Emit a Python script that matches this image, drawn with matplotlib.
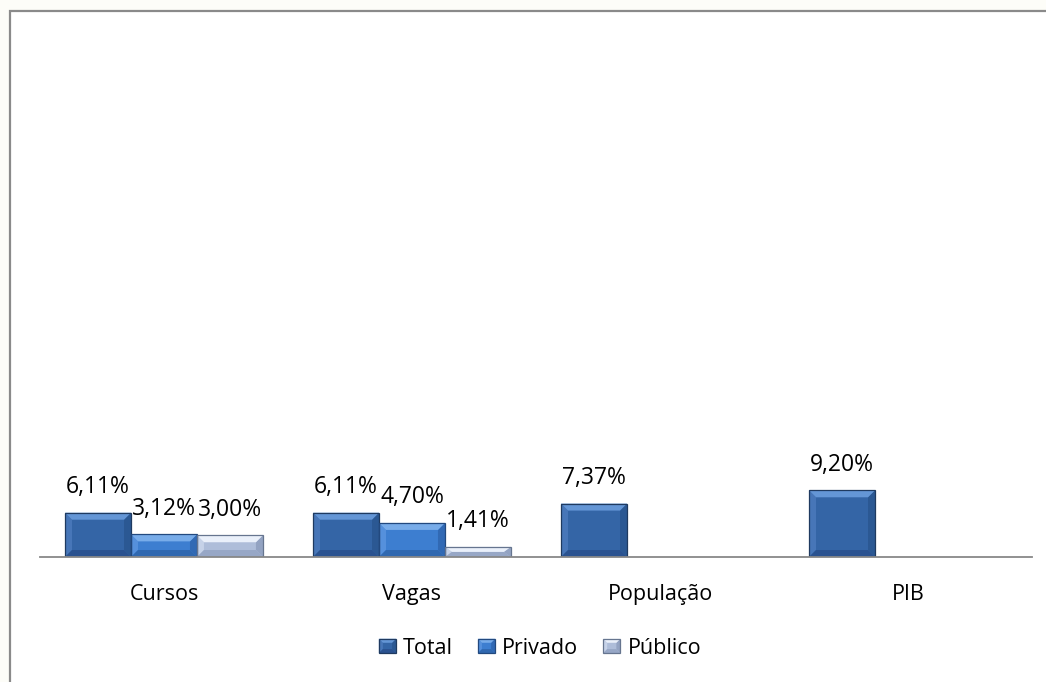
import numpy as np
import matplotlib.pyplot as plt
from matplotlib.patches import Polygon, Rectangle, Patch
from matplotlib.legend_handler import HandlerBase

plt.rcParams['font.family'] = ['Open Sans', 'DejaVu Sans']

categorias = ["Cursos", "Vagas", "População", "PIB"]
total = [6.11, 6.11, 7.37, 9.20]
privado = [3.12, 4.70, None, None]
publico = [3.00, 1.41, None, None]

# cores: face, topo, base, esquerda, direita, contorno
cores = {
    "Total":   ("#3465a6", "#6496d6", "#2a5290", "#4776b8", "#2b5893", "#1f3a60"),
    "Privado": ("#3d7ed0", "#78ace9", "#3068b0", "#5590dc", "#3169b4", "#22497f"),
    "Público": ("#aebdd9", "#eaf0fa", "#97a7c6", "#c6d2e8", "#93a3c2", "#66758f"),
}

fig = plt.figure(figsize=(10.46, 6.82), dpi=100)
fig.patch.set_facecolor("#fdfdf8")
W, H = 1046, 682

# moldura do grafico (sai pela direita e por baixo)
fig.patches.append(Rectangle((9.5 / W, -0.1), 1.2, 1.1 - 10.5 / H, transform=fig.transFigure,
                             facecolor="white", edgecolor="#8a8a8a", lw=1.6, zorder=-1))

ax = fig.add_axes([40 / W, (H - 557) / H, 992 / W, (557 - 30) / H])
ax.set_facecolor("none")
ax.set_xlim(-0.5, 3.5)
ax.set_ylim(0, 527 / 7.25)

x = np.arange(len(categorias))
w = 0.266


def pecas_chanfro(x0, y0, larg, alt, dx, dy, cor):
    face, c_top, c_bot, c_esq, c_dir, c_borda = cor
    return [
        ([(x0, y0), (x0, y0 + alt), (x0 + dx, y0 + alt - dy), (x0 + dx, y0 + dy)], c_esq),
        ([(x0 + larg, y0), (x0 + larg, y0 + alt), (x0 + larg - dx, y0 + alt - dy), (x0 + larg - dx, y0 + dy)], c_dir),
        ([(x0, y0), (x0 + larg, y0), (x0 + larg - dx, y0 + dy), (x0 + dx, y0 + dy)], c_bot),
        ([(x0, y0 + alt), (x0 + larg, y0 + alt), (x0 + larg - dx, y0 + alt - dy), (x0 + dx, y0 + alt - dy)], c_top),
    ]


def chanfro(ax, ret, cor):
    x0, larg, alt = ret.get_x(), ret.get_width(), ret.get_height()
    p0 = ax.transData.transform((0, 0))
    p1 = ax.transData.transform((1, 1))
    sx, sy = p1[0] - p0[0], p1[1] - p0[1]
    dx = min(7 / sx, larg / 2)
    dy = min(7 / sy, alt / 2)
    for pts, c in pecas_chanfro(x0, 0, larg, alt, dx, dy, cor):
        ax.add_patch(Polygon(pts, closed=True, facecolor=c, lw=0, zorder=3))
    ax.add_patch(Rectangle((x0, 0), larg, alt, fill=False, edgecolor=cor[5], lw=0.9, zorder=4))


class ChanfroHandler(HandlerBase):
    def __init__(self, cor):
        super().__init__()
        self.cor = cor

    def create_artists(self, legend, orig_handle, xdescent, ydescent, width, height, fontsize, trans):
        x0, y0 = -xdescent, -ydescent
        d = min(width, height) * 0.28
        arts = [Rectangle((x0, y0), width, height, facecolor=self.cor[0], lw=0)]
        for pts, c in pecas_chanfro(x0, y0, width, height, d, d, self.cor):
            arts.append(Polygon(pts, closed=True, facecolor=c, lw=0))
        arts.append(Rectangle((x0, y0), width, height, fill=False, edgecolor=self.cor[5], lw=0.9))
        for a in arts:
            a.set_transform(trans)
        return arts


series = [("Total", total, -w), ("Privado", privado, 0), ("Público", publico, w)]
for nome, vals, desl in series:
    idx = [i for i, v in enumerate(vals) if v is not None]
    alturas = [vals[i] for i in idx]
    barras = ax.bar(x[idx] + desl, alturas, w, color=cores[nome][0], lw=0, zorder=2)
    for b, v in zip(barras, alturas):
        chanfro(ax, b, cores[nome])
        ax.annotate(f"{v:.2f}%".replace(".", ","), (b.get_x() + b.get_width() / 2, v),
                    xytext=(0, 14), textcoords="offset points", ha="center", va="baseline",
                    fontsize=16.5, color="black", zorder=5)

for s in ["top", "left", "right"]:
    ax.spines[s].set_visible(False)
ax.spines["bottom"].set_color("#888888")
ax.spines["bottom"].set_linewidth(1.3)
ax.spines["bottom"].set_zorder(5)
ax.set_yticks([])
ax.set_xticks(x)
ax.set_xticklabels(categorias, fontsize=15.5)
ax.tick_params(axis="x", length=0, pad=19.5)

handles = [Patch(facecolor=cores[n][0]) for n in cores]
hmap = {h: ChanfroHandler(cores[n]) for h, n in zip(handles, cores)}
fig.legend(handles, list(cores.keys()), handler_map=hmap, loc="center",
           bbox_to_anchor=(540 / W, 1 - 648 / H), ncol=3, frameon=False, fontsize=15.5,
           handlelength=0.8, handleheight=0.65, handletextpad=0.33, columnspacing=1.15)

fig.savefig("out.png", dpi=100, facecolor=fig.get_facecolor())
